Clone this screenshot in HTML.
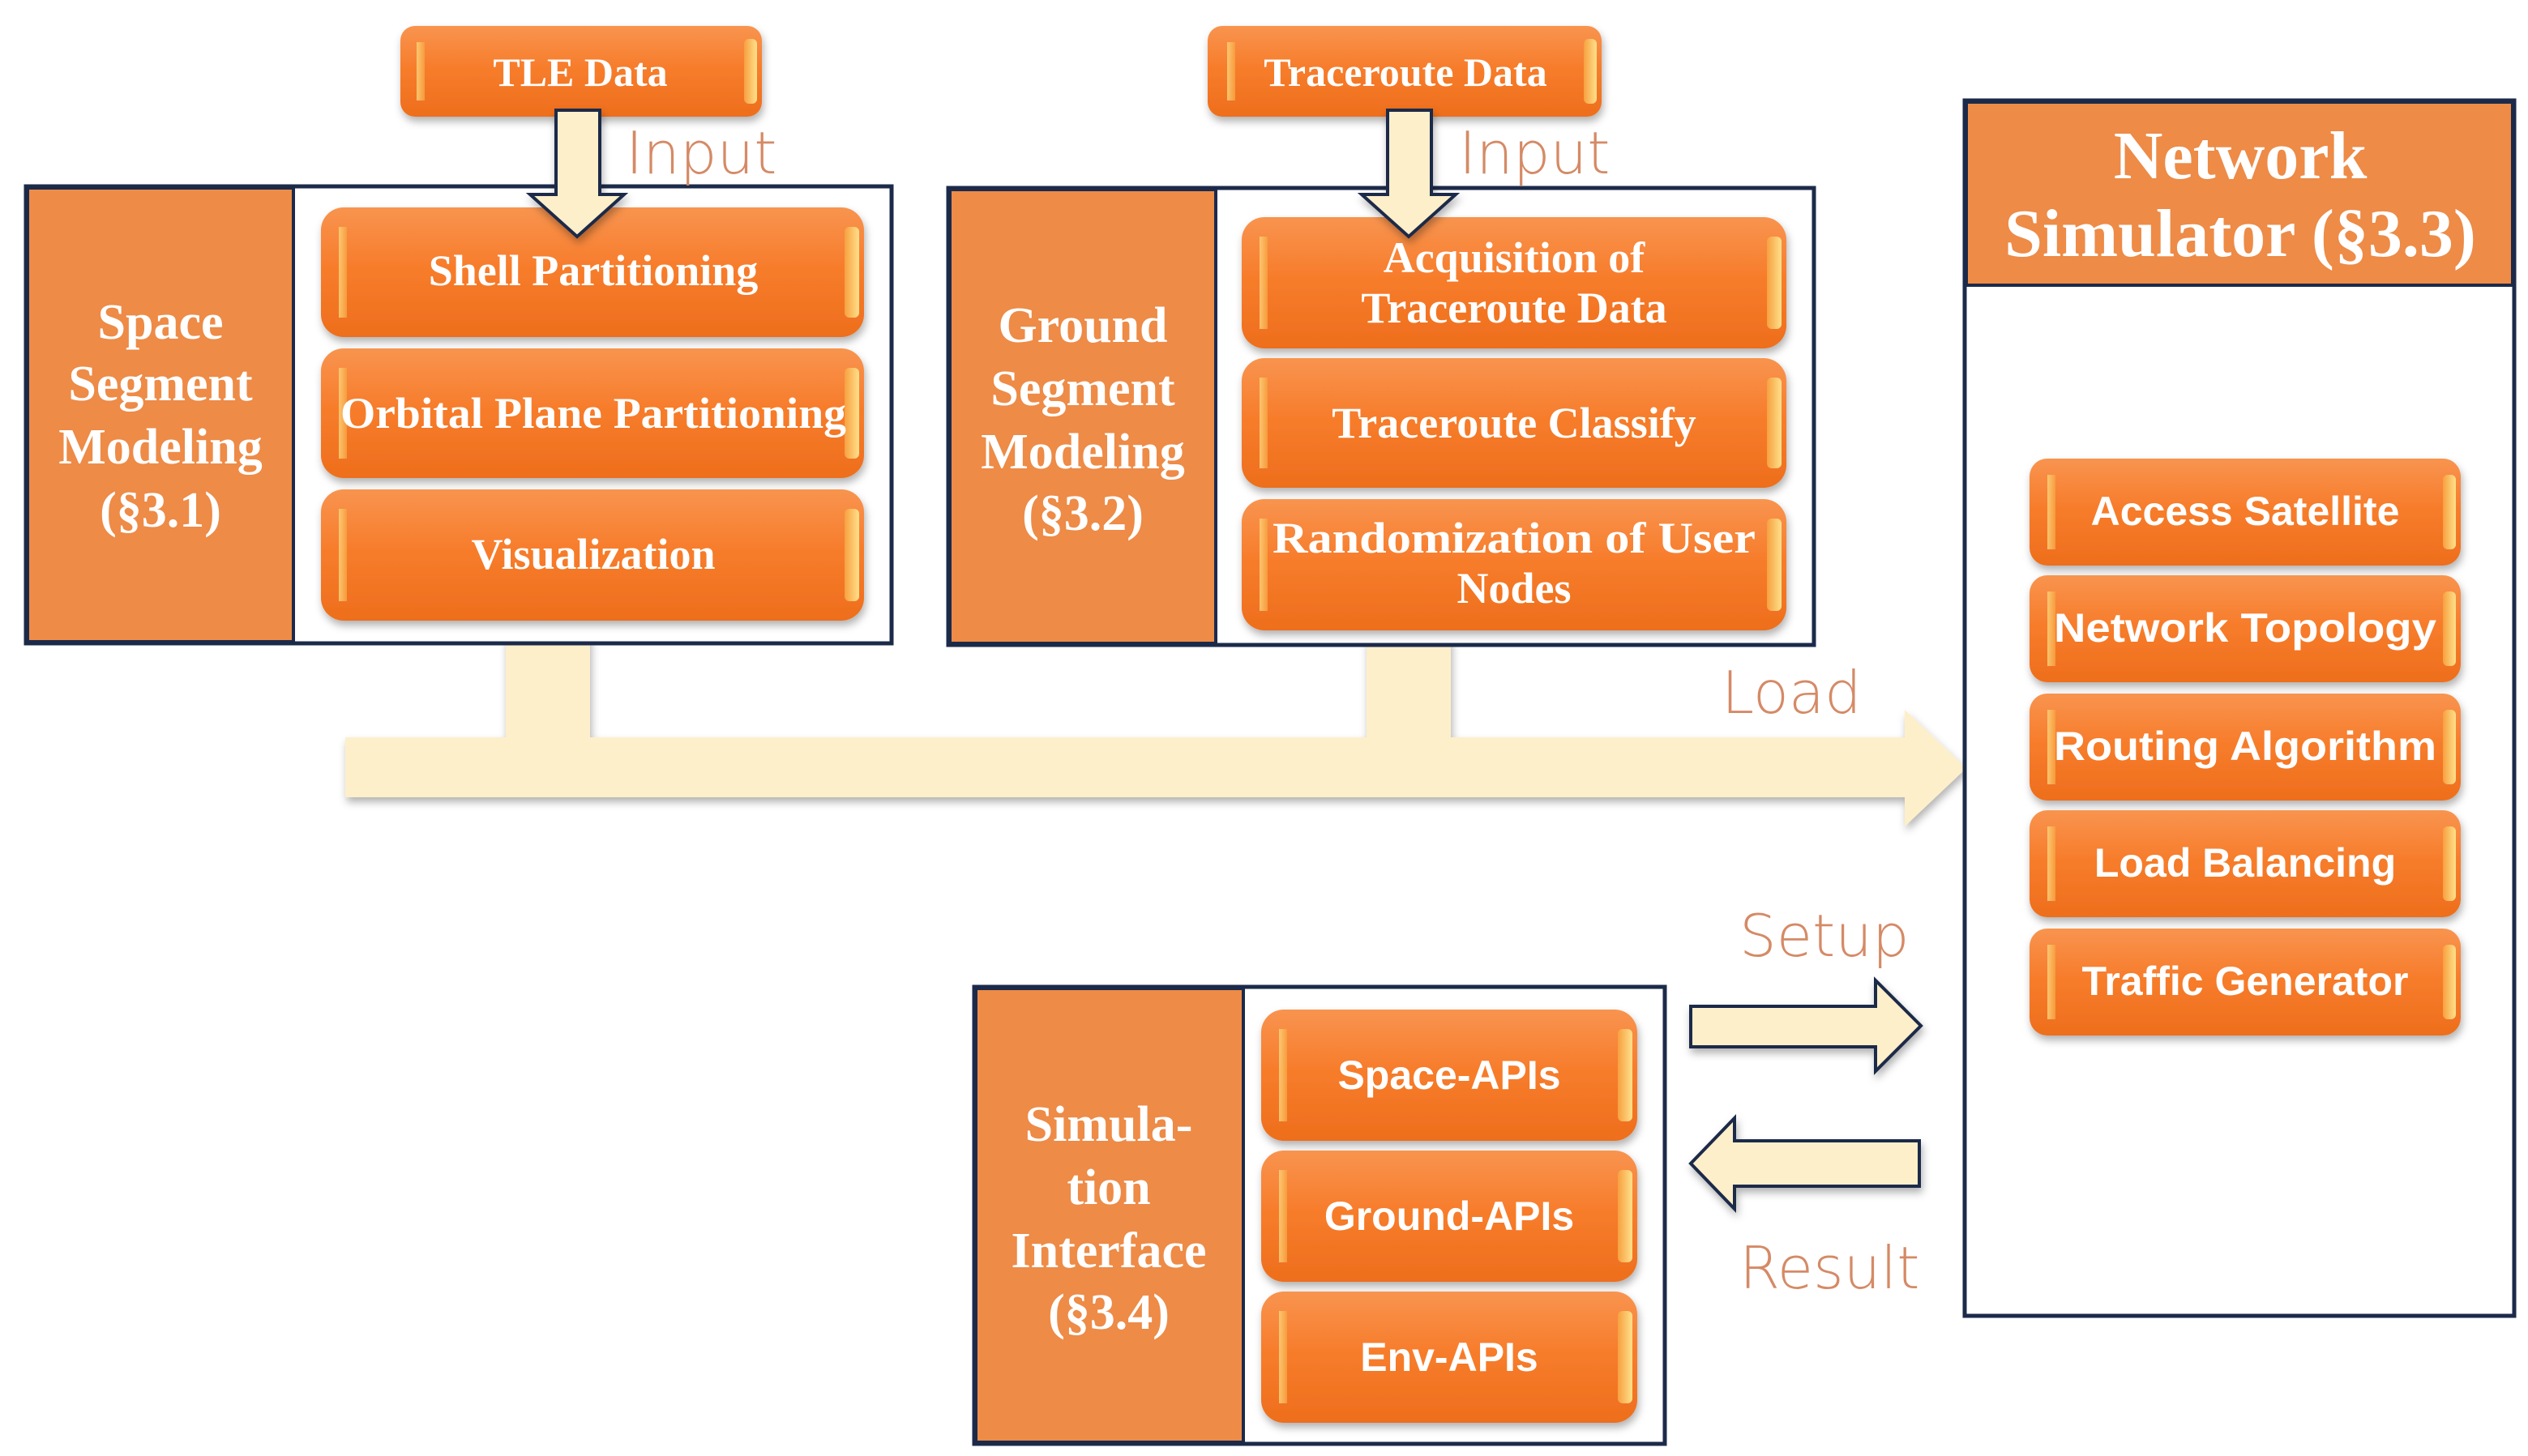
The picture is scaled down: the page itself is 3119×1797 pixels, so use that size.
<!DOCTYPE html>
<html><head><meta charset="utf-8"><style>
html,body{margin:0;padding:0;background:#fff;}
svg{display:block}
.s{font-family:"Liberation Serif",serif;font-weight:bold;fill:#fff;text-anchor:middle}
.a{font-family:"Liberation Sans",sans-serif;font-weight:bold;fill:#fff;text-anchor:middle}
.l{font-family:"DejaVu Sans","Liberation Sans",sans-serif;font-weight:200;fill:#d58a66}
</style></head><body>
<svg width="3119" height="1797" viewBox="0 0 1559.5 898.5" xmlns="http://www.w3.org/2000/svg">
<defs>
<linearGradient id="g" x1="0" y1="0" x2="0" y2="1">
<stop offset="0" stop-color="#f8944f"/><stop offset="0.45" stop-color="#f77d2c"/><stop offset="1" stop-color="#ee6e1c"/>
</linearGradient>
<linearGradient id="e" x1="0" y1="0" x2="1" y2="0">
<stop offset="0" stop-color="#ffd27a"/><stop offset="1" stop-color="#f7a040"/>
</linearGradient>
<linearGradient id="er" x1="1" y1="0" x2="0" y2="0">
<stop offset="0" stop-color="#ffe08a"/><stop offset="1" stop-color="#f7a040"/>
</linearGradient>
<filter id="sh" x="-10%" y="-10%" width="120%" height="130%"><feDropShadow dx="1" dy="3" stdDeviation="2.5" flood-color="#000" flood-opacity="0.3"/></filter>
</defs>

<g filter="url(#sh)" fill="#fdefc9">
<rect x="312" y="392" width="52" height="66"/>
<rect x="843" y="394" width="52" height="64"/>
<polygon points="213,455 1175,455 1175,438 1213,474 1175,510 1175,492 213,492"/>
</g>

<rect x="16" y="115" width="534" height="282" fill="#fff" stroke="#1c2a4a" stroke-width="2.5"/>
<rect x="17" y="116" width="164" height="280" fill="#ed8b47" stroke="#1c2a4a" stroke-width="2"/>
<rect x="585" y="116" width="534" height="282" fill="#fff" stroke="#1c2a4a" stroke-width="2.5"/>
<rect x="586" y="117" width="164" height="280" fill="#ed8b47" stroke="#1c2a4a" stroke-width="2"/>
<rect x="601" y="609" width="426" height="282" fill="#fff" stroke="#1c2a4a" stroke-width="2.5"/>
<rect x="602" y="610" width="165" height="280" fill="#ed8b47" stroke="#1c2a4a" stroke-width="2"/>
<rect x="1212" y="62" width="339" height="750" fill="#fff" stroke="#1c2a4a" stroke-width="2.5"/>
<rect x="1213" y="63" width="337" height="113" fill="#ed8b47" stroke="#1c2a4a" stroke-width="2"/>

<text class="s" font-size="31"><tspan x="99" y="209">Space</tspan><tspan x="99" y="247">Segment</tspan><tspan x="99" y="286">Modeling</tspan><tspan x="99" y="325">(§3.1)</tspan></text>
<text class="s" font-size="31"><tspan x="668" y="211">Ground</tspan><tspan x="668" y="250">Segment</tspan><tspan x="668" y="289">Modeling</tspan><tspan x="668" y="327">(§3.2)</tspan></text>
<text class="s" font-size="31"><tspan x="684" y="704">Simula-</tspan><tspan x="684" y="743">tion</tspan><tspan x="684" y="782">Interface</tspan><tspan x="684" y="820">(§3.4)</tspan></text>
<text class="s" font-size="42"><tspan x="1382" y="110">Network</tspan><tspan x="1382" y="158">Simulator (§3.3)</tspan></text>

<g filter="url(#sh)">
<rect x="247" y="16" width="223" height="56" rx="9" fill="url(#g)"/>
<rect x="745" y="16" width="243" height="56" rx="9" fill="url(#g)"/>
<rect x="198" y="128" width="335" height="80" rx="14" fill="url(#g)"/>
<rect x="198" y="215" width="335" height="80" rx="14" fill="url(#g)"/>
<rect x="198" y="302" width="335" height="81" rx="14" fill="url(#g)"/>
<rect x="766" y="134" width="336" height="81" rx="14" fill="url(#g)"/>
<rect x="766" y="221" width="336" height="80" rx="14" fill="url(#g)"/>
<rect x="766" y="308" width="336" height="81" rx="14" fill="url(#g)"/>
<rect x="778" y="623" width="232" height="81" rx="14" fill="url(#g)"/>
<rect x="778" y="710" width="232" height="81" rx="14" fill="url(#g)"/>
<rect x="778" y="797" width="232" height="81" rx="14" fill="url(#g)"/>
<rect x="1252" y="283" width="266" height="66" rx="11" fill="url(#g)"/>
<rect x="1252" y="355" width="266" height="66" rx="11" fill="url(#g)"/>
<rect x="1252" y="428" width="266" height="66" rx="11" fill="url(#g)"/>
<rect x="1252" y="500" width="266" height="66" rx="11" fill="url(#g)"/>
<rect x="1252" y="573" width="266" height="66" rx="11" fill="url(#g)"/>
</g>
<g fill="url(#e)" opacity="0.85">
<rect x="257" y="26" width="5" height="36"/><rect x="757" y="26" width="5" height="36"/>
<rect x="209" y="140" width="5" height="56"/><rect x="209" y="227" width="5" height="56"/><rect x="209" y="314" width="5" height="57"/>
<rect x="777" y="146" width="5" height="57"/><rect x="777" y="233" width="5" height="56"/><rect x="777" y="320" width="5" height="57"/>
<rect x="789" y="635" width="5" height="57"/><rect x="789" y="722" width="5" height="57"/><rect x="789" y="809" width="5" height="57"/>
<rect x="1263" y="293" width="5" height="46"/><rect x="1263" y="365" width="5" height="46"/><rect x="1263" y="438" width="5" height="46"/><rect x="1263" y="510" width="5" height="46"/><rect x="1263" y="583" width="5" height="46"/>
</g>
<g fill="url(#er)">
<rect x="459" y="24" width="8" height="40" rx="3"/><rect x="977" y="24" width="8" height="40" rx="3"/>
<rect x="521" y="140" width="9" height="56" rx="3"/><rect x="521" y="227" width="9" height="56" rx="3"/><rect x="521" y="314" width="9" height="57" rx="3"/>
<rect x="1090" y="146" width="9" height="57" rx="3"/><rect x="1090" y="233" width="9" height="56" rx="3"/><rect x="1090" y="320" width="9" height="57" rx="3"/>
<rect x="998" y="635" width="9" height="57" rx="3"/><rect x="998" y="722" width="9" height="57" rx="3"/><rect x="998" y="809" width="9" height="57" rx="3"/>
<rect x="1507" y="293" width="8" height="46" rx="3"/><rect x="1507" y="365" width="8" height="46" rx="3"/><rect x="1507" y="438" width="8" height="46" rx="3"/><rect x="1507" y="510" width="8" height="46" rx="3"/><rect x="1507" y="583" width="8" height="46" rx="3"/>
</g>

<g filter="url(#sh)" fill="#fdefc9" stroke="#1c2a4a" stroke-width="2">
<polygon points="343,68 370,68 370,120 385,120 356,146 327,120 343,120"/>
<polygon points="856,68 883,68 883,120 898,120 869,146 840,120 856,120"/>
</g>

<text class="s" font-size="25" x="358" y="53">TLE Data</text>
<text class="s" font-size="25" x="867" y="53">Traceroute Data</text>
<text class="s" font-size="27" x="366" y="176">Shell Partitioning</text>
<text class="s" font-size="27" x="366" y="264" textLength="312" lengthAdjust="spacingAndGlyphs">Orbital Plane Partitioning</text>
<text class="s" font-size="27" x="366" y="351">Visualization</text>
<text class="s" font-size="27"><tspan x="934" y="168">Acquisition of</tspan><tspan x="934" y="199">Traceroute Data</tspan></text>
<text class="s" font-size="27" x="934" y="270">Traceroute Classify</text>
<text class="s" font-size="27"><tspan x="934" y="341" textLength="298" lengthAdjust="spacingAndGlyphs">Randomization of User</tspan><tspan x="934" y="372">Nodes</tspan></text>
<text class="a" font-size="25" x="894" y="672">Space-APIs</text>
<text class="a" font-size="25" x="894" y="759">Ground-APIs</text>
<text class="a" font-size="25" x="894" y="846">Env-APIs</text>
<text class="a" font-size="25" x="1385" y="324">Access Satellite</text>
<text class="a" font-size="25" x="1385" y="396" textLength="236" lengthAdjust="spacingAndGlyphs">Network Topology</text>
<text class="a" font-size="25" x="1385" y="469" textLength="236" lengthAdjust="spacingAndGlyphs">Routing Algorithm</text>
<text class="a" font-size="25" x="1385" y="541">Load Balancing</text>
<text class="a" font-size="25" x="1385" y="614">Traffic Generator</text>

<g filter="url(#sh)" fill="#fdefc9" stroke="#1c2a4a" stroke-width="2">
<polygon points="1043,621 1157,621 1157,605 1185,633 1157,661 1157,646 1043,646"/>
<polygon points="1184,704 1070,704 1070,690 1043,718 1070,746 1070,732 1184,732"/>
</g>

<text class="l" font-size="36" x="386" y="107">Input</text>
<text class="l" font-size="36" x="900" y="107">Input</text>
<text class="l" font-size="36" x="1062" y="440">Load</text>
<text class="l" font-size="36" x="1073" y="590">Setup</text>
<text class="l" font-size="36" x="1073" y="795">Result</text>
</svg>
</body></html>
